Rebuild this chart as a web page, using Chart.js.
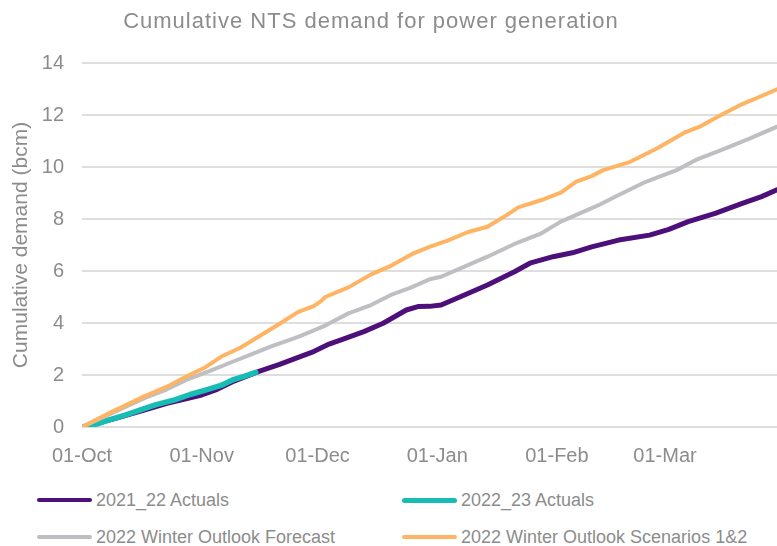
<!DOCTYPE html>
<html>
<head>
<meta charset="utf-8">
<script src="https://cdn.jsdelivr.net/npm/chart.js@4"></script>
<style>
  html, body { margin: 0; padding: 0; background: #ffffff; }
  #wrap { position: relative; width: 777px; height: 546px; overflow: hidden; font-family: "Liberation Sans", Arial, sans-serif; }
  #chart { position: absolute; left: 0; top: 0; }
  .lg { position: absolute; height: 24px; display: flex; align-items: center; color: #8c8c8c; font-size: 18px; white-space: nowrap; }
  .lg .sw { width: 55px; border-radius: 3px; margin-right: 4px; }
</style>
</head>
<body>
<div id="wrap">
  <canvas id="chart" width="777" height="473"></canvas>
  <div id="legend"></div>
</div>
<script>
// ---- Data (day index counted from 01-Oct) ----
const chartTitle = "Cumulative NTS demand for power generation";
const yAxisTitle = "Cumulative demand (bcm)";
const monthTickDays = [0, 31, 61, 92, 123, 151];
const monthTickLabels = ["01-Oct", "01-Nov", "01-Dec", "01-Jan", "01-Feb", "01-Mar"];
const yTickValues = [0, 2, 4, 6, 8, 10, 12, 14];

const seriesNames = ["2021_22 Actuals", "2022_23 Actuals", "2022 Winter Outlook Forecast", "2022 Winter Outlook Scenarios 1&2"];
const seriesColors = ["#4d0f7a", "#17bdb3", "#bebec3", "#ffb463"];

const actuals2122Days = [0, 8, 15, 22, 28, 31, 35, 39, 46, 51, 56, 60, 64, 68, 73, 78, 84, 87, 90, 93, 98, 105, 112, 116, 122, 127, 132, 139, 147, 152, 157, 164, 171, 176, 180];
const actuals2122 =     [0, 0.3, 0.6, 0.91, 1.12, 1.23, 1.45, 1.74, 2.15, 2.4, 2.68, 2.9, 3.19, 3.4, 3.67, 3.99, 4.5, 4.63, 4.64, 4.69, 5.01, 5.46, 5.97, 6.3, 6.55, 6.7, 6.93, 7.19, 7.38, 7.6, 7.9, 8.22, 8.6, 8.86, 9.12];

const actuals2223Days = [0, 4, 7, 11, 15, 19, 24, 28, 32, 36, 39, 42, 45];
const actuals2223 =     [0, 0.12, 0.27, 0.45, 0.65, 0.85, 1.04, 1.25, 1.42, 1.6, 1.81, 1.95, 2.1];

const forecastDays = [0, 8, 16, 22, 27, 33, 39, 44, 49, 56, 63, 69, 75, 80, 85, 90, 93, 98, 105, 112, 119, 124, 131, 134, 139, 146, 154, 159, 166, 173, 180];
const forecast =     [0, 0.55, 1.1, 1.45, 1.81, 2.15, 2.51, 2.8, 3.1, 3.47, 3.9, 4.37, 4.7, 5.08, 5.35, 5.68, 5.78, 6.1, 6.55, 7.04, 7.45, 7.9, 8.35, 8.55, 8.92, 9.43, 9.88, 10.27, 10.68, 11.1, 11.55];

const scenarioDays = [0, 8, 16, 22, 27, 32, 36, 41, 46, 51, 56, 60, 62, 63, 69, 75, 80, 86, 90, 95, 100, 105, 110, 113, 119, 124, 128, 132, 135, 142, 149, 156, 160, 165, 171, 176, 180];
const scenario =     [0, 0.6, 1.17, 1.55, 1.94, 2.3, 2.7, 3.05, 3.5, 3.95, 4.43, 4.65, 4.85, 5.0, 5.37, 5.88, 6.2, 6.69, 6.93, 7.19, 7.5, 7.7, 8.15, 8.45, 8.73, 9.01, 9.44, 9.65, 9.88, 10.2, 10.72, 11.32, 11.55, 11.96, 12.42, 12.73, 12.99];

const toPts = (xs, ys) => xs.map((x, i) => ({ x: x, y: ys[i] }));

const textGrey = "#8c8c8c";
const fontFam = "'Liberation Sans', Arial, sans-serif";

const datasets = [
  { label: seriesNames[0], data: toPts(actuals2122Days, actuals2122), borderColor: seriesColors[0], backgroundColor: seriesColors[0], borderWidth: 5, order: 3 },
  { label: seriesNames[1], data: toPts(actuals2223Days, actuals2223), borderColor: seriesColors[1], backgroundColor: seriesColors[1], borderWidth: 5.5, order: 2 },
  { label: seriesNames[2], data: toPts(forecastDays, forecast), borderColor: seriesColors[2], backgroundColor: seriesColors[2], borderWidth: 4, order: 1 },
  { label: seriesNames[3], data: toPts(scenarioDays, scenario), borderColor: seriesColors[3], backgroundColor: seriesColors[3], borderWidth: 4, order: 0 }
];
datasets.forEach(d => { d.pointRadius = 0; d.tension = 0; d.fill = false; d.borderCapStyle = 'round'; d.borderJoinStyle = 'round'; });

// Title drawn as canvas text, slightly left of centre like the original
const titlePlugin = {
  id: 'offsetTitle',
  afterDraw(chart) {
    const ctx = chart.ctx;
    ctx.save();
    ctx.font = "22px " + fontFam;
    if ('letterSpacing' in ctx) ctx.letterSpacing = '1px';
    ctx.fillStyle = textGrey;
    ctx.textAlign = 'center';
    ctx.textBaseline = 'alphabetic';
    ctx.fillText(chartTitle, 371, 28);
    ctx.restore();
  }
};

new Chart(document.getElementById('chart'), {
  type: 'line',
  data: { datasets: datasets },
  plugins: [titlePlugin],
  options: {
    responsive: false,
    animation: false,
    layout: { padding: { left: 0, right: 0, top: 63, bottom: 0 } },
    plugins: {
      legend: { display: false },
      tooltip: { enabled: false },
      title: { display: false }
    },
    scales: {
      x: {
        type: 'linear',
        min: 0,
        max: 180,
        afterBuildTicks: (axis) => { axis.ticks = monthTickDays.map(v => ({ value: v })); },
        afterFit: (axis) => { axis.height = 46; },
        ticks: {
          autoSkip: false,
          maxRotation: 0,
          color: textGrey,
          font: { family: fontFam, size: 20 },
          padding: 17,
          callback: (val, idx) => monthTickLabels[idx]
        },
        grid: { display: false, drawTicks: false },
        border: { display: false }
      },
      y: {
        min: 0,
        max: 14,
        afterBuildTicks: (axis) => { axis.ticks = yTickValues.map(v => ({ value: v })); },
        afterFit: (axis) => { axis.width = 82; },
        ticks: {
          color: textGrey,
          font: { family: fontFam, size: 20 },
          padding: 18
        },
        grid: { color: "#dedede", lineWidth: 2, drawTicks: false },
        border: { display: false },
        title: {
          display: true,
          text: yAxisTitle,
          color: textGrey,
          font: { family: fontFam, size: 21 },
          padding: { top: 9, bottom: 0 }
        }
      }
    }
  }
});

// HTML legend built from the series arrays
const legendPos = [
  { left: 37, top: 488 }, { left: 402, top: 488 },
  { left: 37, top: 525 }, { left: 402, top: 525 }
];
const lgEl = document.getElementById('legend');
seriesNames.forEach((name, i) => {
  const item = document.createElement('div');
  item.className = 'lg';
  item.style.left = legendPos[i].left + 'px';
  item.style.top = legendPos[i].top + 'px';
  const sw = document.createElement('span');
  sw.className = 'sw';
  sw.style.background = seriesColors[i];
  sw.style.height = (i === 1 ? 5 : 4) + 'px';
  const tx = document.createElement('span');
  tx.textContent = name;
  item.appendChild(sw);
  item.appendChild(tx);
  lgEl.appendChild(item);
});
</script>
</body>
</html>
